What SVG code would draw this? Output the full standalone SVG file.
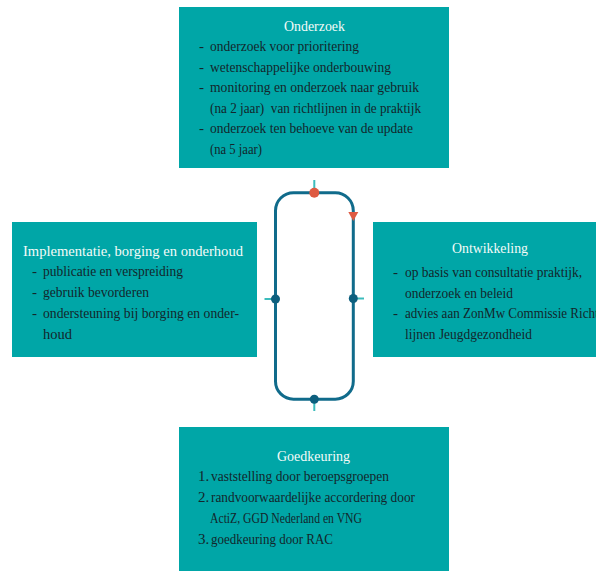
<svg xmlns="http://www.w3.org/2000/svg" width="596" height="571" viewBox="0 0 596 571">
<style>
.box{fill:#00a6a7}
text{font-family:"Liberation Serif","Times New Roman",serif;font-size:15px}
.title{fill:#f4fbf8;text-anchor:middle}
.body{fill:#13262c}
.loop{fill:none;stroke:#106b8b;stroke-width:3}
.tick{stroke:#3cbcbc;stroke-width:2}
.dot{fill:#0d5f7e}
</style>
<rect width="596" height="571" fill="#ffffff"/>
<g id="onderzoek">
<rect class="box" x="179" y="7" width="270" height="161"/>
<text class="title" x="314.5" y="31" textLength="61" lengthAdjust="spacingAndGlyphs">Onderzoek</text>
<text class="body" x="199" y="51">-</text><text class="body" x="210" y="51" textLength="149" lengthAdjust="spacingAndGlyphs">onderzoek voor prioritering</text>
<text class="body" x="199" y="72">-</text><text class="body" x="210" y="72" textLength="181" lengthAdjust="spacingAndGlyphs">wetenschappelijke onderbouwing</text>
<text class="body" x="199" y="92">-</text><text class="body" x="210" y="92" textLength="209" lengthAdjust="spacingAndGlyphs">monitoring en onderzoek naar gebruik</text>
<text class="body" x="210" y="113" textLength="211" lengthAdjust="spacingAndGlyphs" xml:space="preserve">(na 2 jaar)  van richtlijnen in de praktijk</text>
<text class="body" x="199" y="133">-</text><text class="body" x="210" y="133" textLength="203" lengthAdjust="spacingAndGlyphs">onderzoek ten behoeve van de update</text>
<text class="body" x="210" y="154" textLength="52" lengthAdjust="spacingAndGlyphs">(na 5 jaar)</text>
</g>
<g id="implementatie">
<rect class="box" x="12" y="222" width="245" height="135"/>
<text class="body" x="23" y="256" style="fill:#f4fbf8" textLength="220" lengthAdjust="spacingAndGlyphs">Implementatie, borging en onderhoud</text>
<text class="body" x="32" y="276">-</text><text class="body" x="43" y="276" textLength="140" lengthAdjust="spacingAndGlyphs">publicatie en verspreiding</text>
<text class="body" x="32" y="297">-</text><text class="body" x="43" y="297" textLength="106" lengthAdjust="spacingAndGlyphs">gebruik bevorderen</text>
<text class="body" x="32" y="318">-</text><text class="body" x="43" y="318" textLength="196" lengthAdjust="spacingAndGlyphs">ondersteuning bij borging en onder-</text>
<text class="body" x="43" y="339" textLength="29" lengthAdjust="spacingAndGlyphs">houd</text>
</g>
<g id="ontwikkeling">
<rect class="box" x="373" y="222" width="223" height="135"/>
<text class="title" x="490" y="253" textLength="76" lengthAdjust="spacingAndGlyphs">Ontwikkeling</text>
<text class="body" x="393" y="277">-</text><text class="body" x="405" y="277" textLength="177" lengthAdjust="spacingAndGlyphs">op basis van consultatie praktijk,</text>
<text class="body" x="405" y="298" textLength="108" lengthAdjust="spacingAndGlyphs">onderzoek en beleid</text>
<text class="body" x="393" y="318">-</text><text class="body" x="405" y="318" textLength="198" lengthAdjust="spacingAndGlyphs">advies aan ZonMw Commissie Richt-</text>
<text class="body" x="405" y="339" textLength="127" lengthAdjust="spacingAndGlyphs">lijnen Jeugdgezondheid</text>
</g>
<g id="goedkeuring">
<rect class="box" x="179" y="427" width="270" height="144"/>
<text class="title" x="313.5" y="461" textLength="73" lengthAdjust="spacingAndGlyphs">Goedkeuring</text>
<text class="body" x="198" y="481">1.</text><text class="body" x="211" y="481" textLength="178" lengthAdjust="spacingAndGlyphs">vaststelling door beroepsgroepen</text>
<text class="body" x="198" y="502">2.</text><text class="body" x="211" y="502" textLength="204" lengthAdjust="spacingAndGlyphs">randvoorwaardelijke accordering door</text>
<text class="body" x="210" y="523" textLength="152" lengthAdjust="spacingAndGlyphs">ActiZ, GGD Nederland en VNG</text>
<text class="body" x="198" y="544">3.</text><text class="body" x="211" y="544" textLength="122" lengthAdjust="spacingAndGlyphs">goedkeuring door RAC</text>
</g>
<g id="connectors">
<line class="tick" x1="314.3" y1="180" x2="314.3" y2="193"/>
<line class="tick" x1="264.5" y1="299" x2="275.5" y2="299"/>
<line class="tick" x1="353.3" y1="298.5" x2="364" y2="298.5"/>
<line class="tick" x1="314.3" y1="399" x2="314.3" y2="411"/>
<rect class="loop" x="275.5" y="192.7" width="77.8" height="206.5" rx="18" ry="18"/>
<circle cx="314.3" cy="192.7" r="5" fill="#de5a42"/>
<polygon points="348.3,212 358.3,212 353.3,221" fill="#de5a42"/>
<circle class="dot" cx="275.5" cy="299" r="4.5"/>
<circle class="dot" cx="353.3" cy="298.5" r="4.5"/>
<circle class="dot" cx="314.3" cy="399.2" r="4.5"/>
</g>
</svg>
